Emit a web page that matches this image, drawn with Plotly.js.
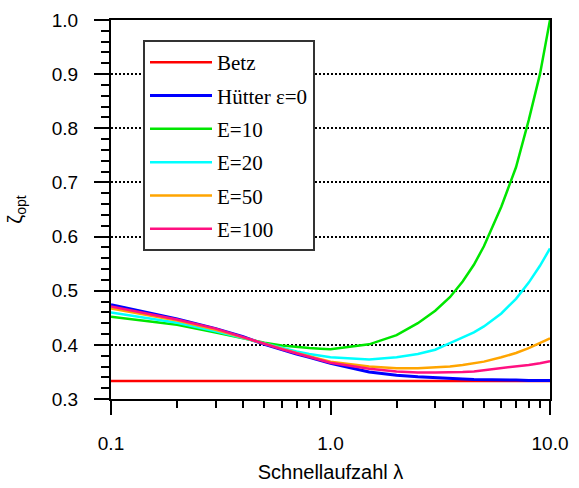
<!DOCTYPE html>
<html>
<head>
<meta charset="utf-8">
<script src="https://cdn.plot.ly/plotly-3.0.1.min.js"></script>
<style>html,body{margin:0;padding:0;background:#fff;}#chart{width:579px;height:488px;}</style>
</head>
<body>
<div id="chart"></div>
<script>
// Schnellaufzahl lambda
const lambda = [0.1, 0.2, 0.3, 0.4, 0.5, 0.6, 0.7, 0.8, 0.9, 1.0, 1.5, 2, 2.5, 3, 3.5, 4, 4.5, 5, 6, 7, 8, 9, 10];
const betz   = [0.3333,0.3333,0.3333,0.3333,0.3333,0.3333,0.3333,0.3333,0.3333,0.3333,0.3333,0.3333,0.3333,0.3333,0.3333,0.3333,0.3333,0.3333,0.3333,0.3333,0.3333,0.3333,0.3333];
const huetter = [0.474,0.448,0.430,0.415,0.401,0.391,0.383,0.377,0.371,0.366,0.350,0.344,0.341,0.339,0.338,0.337,0.336,0.336,0.335,0.335,0.334,0.334,0.334];
const e10   = [0.452,0.437,0.423,0.412,0.404,0.399,0.396,0.394,0.393,0.392,0.401,0.418,0.440,0.463,0.488,0.517,0.548,0.582,0.655,0.728,0.815,0.900,1.000];
const e20   = [0.460,0.441,0.425,0.412,0.403,0.394,0.388,0.383,0.380,0.377,0.373,0.377,0.383,0.391,0.403,0.413,0.423,0.434,0.458,0.485,0.515,0.546,0.578];
const e50   = [0.467,0.445,0.428,0.414,0.402,0.393,0.385,0.379,0.374,0.369,0.360,0.357,0.357,0.358,0.360,0.363,0.366,0.369,0.377,0.385,0.394,0.403,0.412];
const e100  = [0.471,0.447,0.430,0.415,0.402,0.392,0.384,0.377,0.372,0.367,0.356,0.351,0.349,0.349,0.349,0.350,0.351,0.353,0.357,0.360,0.363,0.366,0.370];
const seriesNames = ['Betz', 'Hütter \u03b5=0', 'E=10', 'E=20', 'E=50', 'E=100'];
const xTickVals = [0.1, 1, 10];
const xTickText = ['0.1', '1.0', '10.0'];
const xMinorVals = [0.2,0.3,0.4,0.5,0.6,0.7,0.8,0.9,2,3,4,5,6,7,8,9];

const seriesData = [betz, huetter, e10, e20, e50, e100];
const colors = ['#ff0000', '#0000ff', '#00e600', '#00ffff', '#ffa500', '#ff1080'];
const widths = [2.5, 3, 2.5, 2.5, 2.5, 2.5];

const traces = seriesData.map((d, i) => ({
  x: lambda, y: d, type: 'scatter', mode: 'lines', name: seriesNames[i],
  legendgroup: 'g' + i,
  line: {color: colors[i], width: widths[i]}
}));

const layout = {
  width: 579, height: 488,
  margin: {l: 111, r: 29, t: 20, b: 89},
  paper_bgcolor: '#fff', plot_bgcolor: '#fff',
  font: {family: 'Liberation Sans, Arial, sans-serif', color: '#000', size: 19},
  showlegend: true,
  legend: {
    x: 0.0729, y: 0.947, xanchor: 'left', yanchor: 'top',
    bgcolor: '#fff', bordercolor: '#333', borderwidth: 2,
    font: {family: 'Liberation Serif, Times New Roman, serif', size: 21, color: '#000'},
    tracegroupgap: 3, itemwidth: 62
  },
  xaxis: {
    type: 'log', range: [-1, 1],
    tickmode: 'array', tickvals: xTickVals, ticktext: xTickText,
    ticks: 'outside', ticklen: 14, tickwidth: 2, tickcolor: '#000',
    ticklabelstandoff: 12,
    showline: true, linewidth: 2, linecolor: '#000', mirror: true,
    showgrid: false, zeroline: false,
    minor: {tickmode: 'array', tickvals: xMinorVals, ticks: 'outside', ticklen: 7, tickwidth: 2, tickcolor: '#000', showgrid: false},
    title: {text: 'Schnellaufzahl \u03bb', font: {size: 20}, standoff: 12}
  },
  yaxis: {
    range: [0.3, 1.0], dtick: 0.1, tick0: 0.3, tickformat: '.1f',
    ticks: 'outside', ticklen: 15, tickwidth: 2, tickcolor: '#000',
    ticklabelstandoff: 12,
    showline: true, linewidth: 2, linecolor: '#000', mirror: true,
    showgrid: true, gridcolor: '#000', gridwidth: 2, griddash: '2px,2px',
    zeroline: false,
    minor: {dtick: 0.02, ticks: 'outside', ticklen: 8, tickwidth: 2, tickcolor: '#000', showgrid: false},
    title: {text: '\u03b6<sub>opt</sub>', font: {size: 20}, standoff: 24}
  }
};

Plotly.newPlot('chart', traces, layout, {displayModeBar: false, staticPlot: true});
</script>
</body>
</html>
